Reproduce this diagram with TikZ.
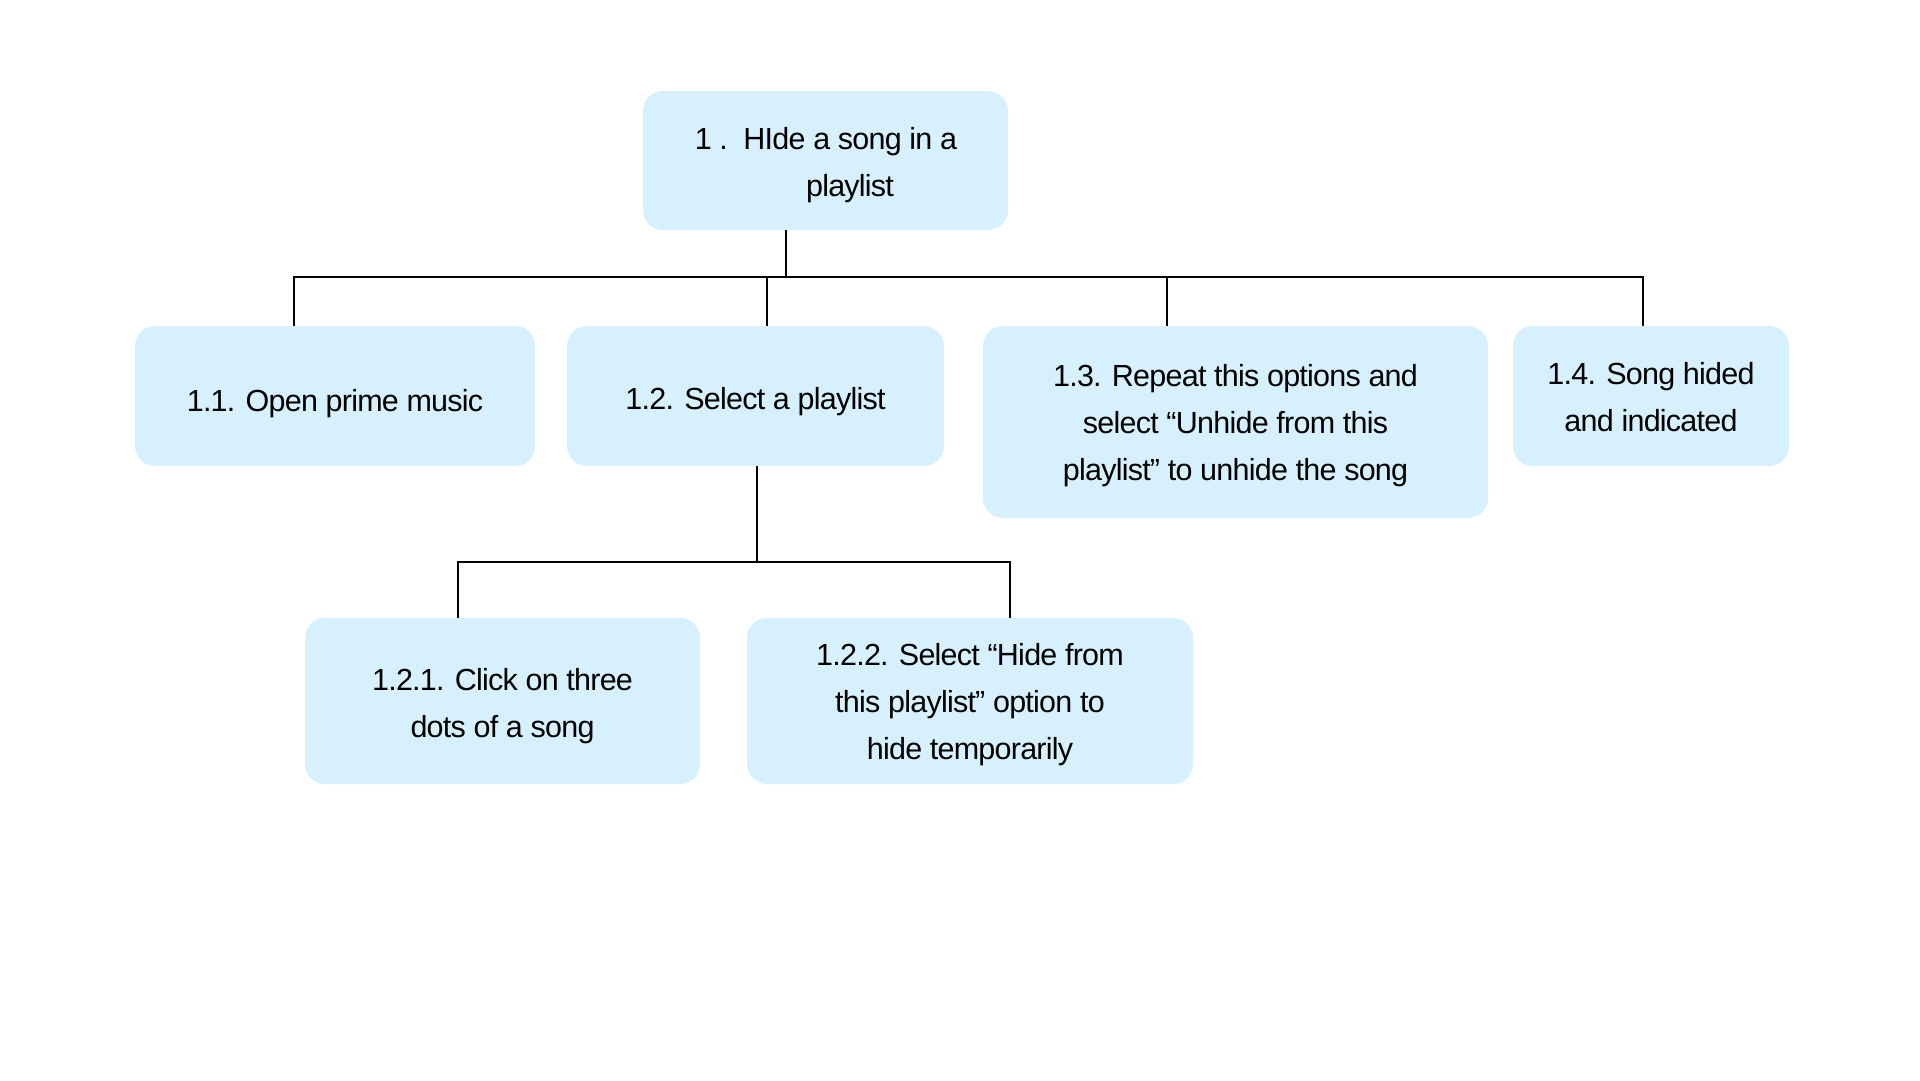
\documentclass[tikz,border=0pt]{standalone}
\usepackage{fontspec}
\setmainfont[LetterSpace=-2.5]{Liberation Sans}
\begin{document}
\begin{tikzpicture}[x=1pt,y=-1pt,
  box/.style={rectangle, rounded corners=20pt, fill=boxblue, draw=none, inner sep=0pt},
  txt/.style={align=center, font=\fontsize{30.5}{47}\selectfont, text=black, inner sep=0pt},
  conn/.style={draw=black, line width=2pt}]
\definecolor{boxblue}{HTML}{D6F1FD}
\useasboundingbox (0,0) rectangle (1920,1080);
\fill[white] (0,0) rectangle (1920,1080);
\node[box, minimum width=365pt, minimum height=139pt] (root) at (825.5,160.5) {};
\node[txt] (rootA) at (826,142) {1 .\ \ HIde a song in a};
\node[txt] (rootB) at (850,189) {playlist};
\node[box, minimum width=400pt, minimum height=140pt] (n11) at (335,396) {};
\node[txt] (t11) at ([yshift=-8pt]n11.center) {1.1. Open prime music};
\node[box, minimum width=377pt, minimum height=140pt] (n12) at (755.5,396) {};
\node[txt] (t12) at ([yshift=-5.3pt]n12.center) {1.2. Select a playlist};
\node[box, minimum width=505pt, minimum height=192pt] (n13) at (1235.5,422) {};
\node[txt] (t13) at ([yshift=-4.1pt]n13.center) {1.3. Repeat this options and\\select “Unhide from this\\playlist” to unhide the song};
\node[box, minimum width=276pt, minimum height=140pt] (n14) at (1651,396) {};
\node[txt] (t14) at ([yshift=-1.4pt]n14.center) {1.4. Song hided\\and indicated};
\node[box, minimum width=395pt, minimum height=166pt] (n121) at (502.5,701) {};
\node[txt] (t121) at ([yshift=-4.8pt]n121.center) {1.2.1. Click on three\\dots of a song};
\node[box, minimum width=446pt, minimum height=166pt] (n122) at (970,701) {};
\node[txt] (t122) at ([yshift=-4.1pt]n122.center) {1.2.2. Select “Hide from\\this playlist” option to\\hide temporarily};
\coordinate (j0) at (786,277);
\coordinate (hL) at (294,277);
\coordinate (h2) at (767,277);
\coordinate (h3) at (1167,277);
\coordinate (hR) at (1643,277);
\draw[conn] (root.south -| j0) -- (j0);
\draw[conn] (n11.north -| hL) -- (hL) -- (hR) -- (n14.north -| hR);
\draw[conn] (h2) -- (n12.north -| h2);
\draw[conn] (h3) -- (n13.north -| h3);
\coordinate (k0) at (757,562);
\coordinate (kL) at (458,562);
\coordinate (kR) at (1010,562);
\draw[conn] (n12.south -| k0) -- (k0);
\draw[conn] (n121.north -| kL) -- (kL) -- (kR) -- (n122.north -| kR);
\end{tikzpicture}
\end{document}
